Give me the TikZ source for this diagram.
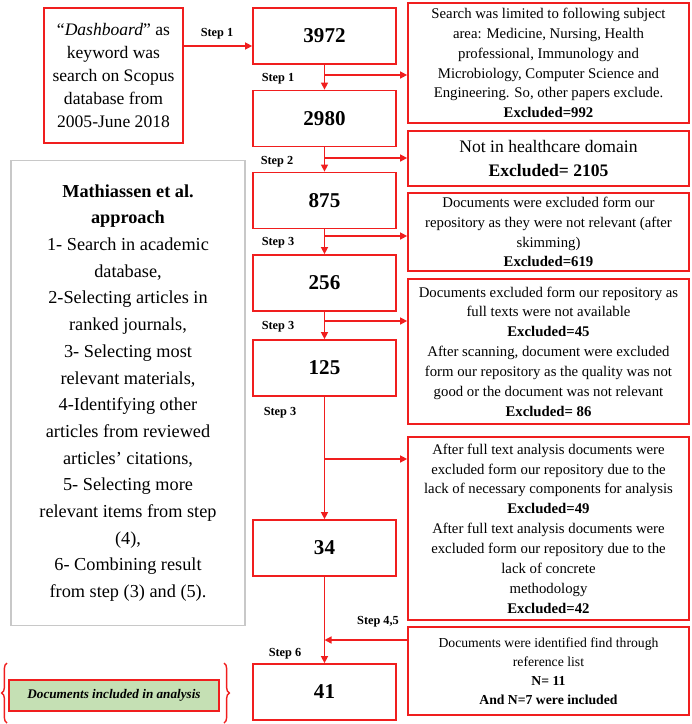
\documentclass[tikz,border=0pt]{standalone}
\usepackage{fontspec}
\setmainfont{Liberation Serif}
\usetikzlibrary{arrows.meta,positioning,decorations.pathreplacing}
\definecolor{boxred}{RGB}{240,30,30}
\definecolor{boxgreen}{RGB}{197,224,180}
\definecolor{boxgray}{RGB}{200,200,200}

\tikzset{
  countbox/.style={draw=boxred, line width=1pt, minimum width=2.86cm, minimum height=1.12cm, font=\fontsize{12}{14}\selectfont\bfseries},
  exclbox/.style={draw=boxred, line width=1pt, minimum width=5.62cm, align=center, inner sep=1pt, font=\fontsize{8.4}{11.3}\selectfont},
  steplabel/.style={font=\fontsize{7}{8}\selectfont\bfseries, inner sep=0pt},
  flow/.style={draw=boxred, line width=0.8pt, -{Triangle[length=4pt,width=4pt]}},
}

\begin{document}
\begin{tikzpicture}[x=0.02cm, y=-0.02cm]
\useasboundingbox (0,0) rectangle (692,724);
% Search query
\node[draw=boxred, line width=1pt, minimum width=2.78cm, minimum height=2.70cm, align=center, font=\fontsize{10}{13}\selectfont] (query) at (113.5,75.5) {“\textit{Dashboard}” as\\keyword was\\search on Scopus\\database from\\2005-June 2018};
% Counts
\node[countbox] (n1) at (324.5,36) {3972};
\node[countbox] (n2) at (324.5,118.5) {2980};
\node[countbox] (n3) at (324.5,200.5) {875};
\node[countbox] (n4) at (324.5,283) {256};
\node[countbox] (n5) at (324.5,368) {125};
\node[countbox] (n6) at (324.5,548) {34};
\node[countbox] (n7) at (324.5,692) {41};
% Exclusions
\node[exclbox, minimum height=2.40cm] (r1) at (548.5,63) {Search was limited to following subject\\area: Medicine, Nursing, Health\\professional, Immunology and\\Microbiology, Computer Science and\\Engineering. So, other papers exclude.\\\textbf{Excluded=992}};
\node[exclbox, minimum height=1.10cm, font=\fontsize{10}{13.6}\selectfont] (r2) at (548.5,158.5) {Not in healthcare domain\\\textbf{Excluded= 2105}};
\node[exclbox, minimum height=1.56cm] (r3) at (548.5,232) {Documents were excluded form our\\repository as they were not relevant (after\\skimming)\\\textbf{Excluded=619}};
\node[exclbox, minimum height=2.90cm] (r4) at (548.5,351.5) {Documents excluded form our repository as\\full texts were not available\\\textbf{Excluded=45}\\After scanning, document were excluded\\form our repository as the quality was not\\good or the document was not relevant\\\textbf{Excluded= 86}};
\node[exclbox, minimum height=3.66cm] (r5) at (548.5,528.5) {After full text analysis documents were\\excluded form our repository due to the\\lack of necessary components for analysis\\\textbf{Excluded=49}\\After full text analysis documents were\\excluded form our repository due to the\\lack of concrete\\methodology\\\textbf{Excluded=42}};
\node[exclbox, minimum height=1.76cm, font=\fontsize{7.8}{10.8}\selectfont] (r6) at (548.5,671) {Documents were identified find through\\reference list\\\textbf{N= 11}\\\textbf{And N=7 were included}};
% Method
\node[draw=boxgray, line width=0.6pt, minimum width=4.68cm, minimum height=9.32cm, align=center, font=\fontsize{10.4}{15.2}\selectfont] (method) at (128,393) {\textbf{Mathiassen et al.}\\\textbf{approach}\\1- Search in academic\\database,\\2-Selecting articles in\\ranked journals,\\3- Selecting most\\relevant materials,\\4-Identifying other\\articles from reviewed\\articles’ citations,\\5- Selecting more\\relevant items from step\\(4),\\6- Combining result\\from step (3) and (5).};
% Legend
\node[draw=boxred, fill=boxgreen, line width=1pt, minimum width=4.2cm, minimum height=0.62cm, font=\fontsize{7.5}{9}\selectfont\bfseries\itshape] (incl) at (114,695.5) {Documents included in analysis};
\draw[boxred, line width=0.8pt, decorate, decoration={brace, amplitude=3pt}] (7,723) -- (7,663);
\draw[boxred, line width=0.8pt, decorate, decoration={brace, amplitude=3pt}] (224,663) -- (224,723);
% Connections
\draw[flow] ([yshift=-0.2cm]n1.west -| query.east) -- ([yshift=-0.2cm]n1.west);
\foreach \a/\b in {n1/n2,n2/n3,n3/n4,n4/n5,n5/n6,n6/n7}
\draw[flow] (\a) -- (\b);
\foreach \y/\r in {75/r1,158/r2,236/r3,321/r4,459/r5} {
\coordinate (split-\r) at (324.5,\y);
\draw[flow] (split-\r) -- (split-\r -| \r.west);
}
\coordinate (join) at (324.5,640);
\draw[flow] (join -| r6.west) -- (join);
% Labels
\node[steplabel] (s1) at (217,34) {Step 1};
\node[steplabel] (s2) at (278,79) {Step 1};
\node[steplabel] (s3) at (277,162) {Step 2};
\node[steplabel] (s4) at (278,243) {Step 3};
\node[steplabel] (s5) at (278,327) {Step 3};
\node[steplabel] (s6) at (280,413) {Step 3};
\node[steplabel] (s7) at (378,622) {Step 4,5};
\node[steplabel] (s8) at (285,654) {Step 6};
\end{tikzpicture}
\end{document}
